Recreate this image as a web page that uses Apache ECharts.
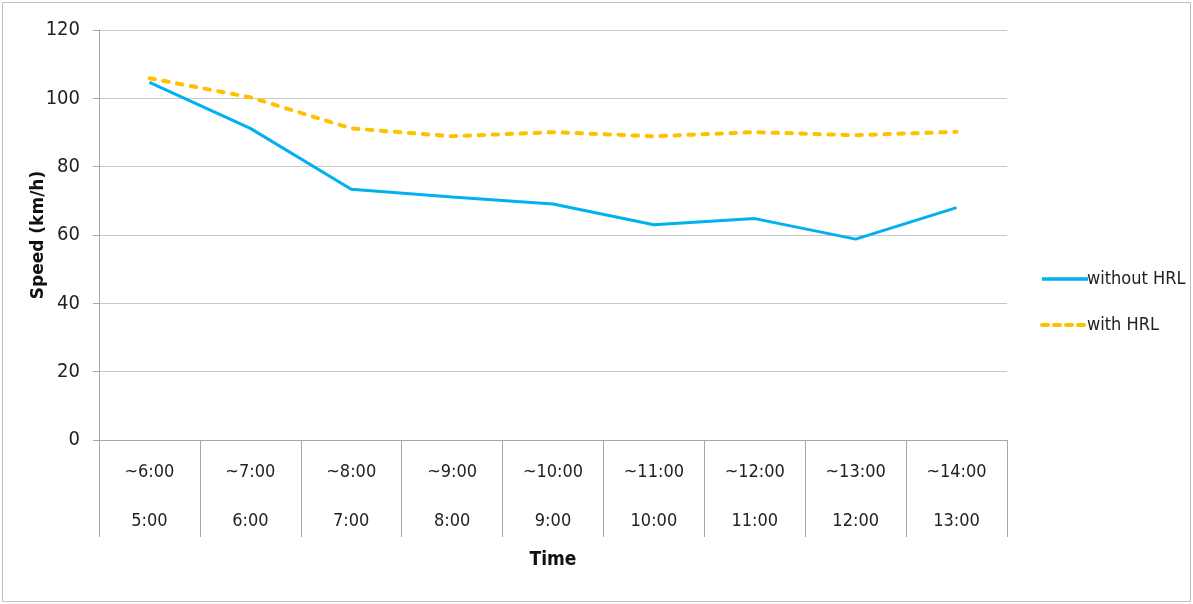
<!DOCTYPE html>
<html>
<head>
<meta charset="utf-8">
<script src="https://cdn.jsdelivr.net/npm/echarts@6/dist/echarts.min.js"></script>
<style>
html,body{margin:0;padding:0;background:#fff;}
#c{width:1193px;height:604px;}
</style>
</head>
<body>
<div id="c"></div>
<script>
var rangeLabels = ["~6:00","~7:00","~8:00","~9:00","~10:00","~11:00","~12:00","~13:00","~14:00"];
var startLabels = ["5:00","6:00","7:00","8:00","9:00","10:00","11:00","12:00","13:00"];
var withoutHRL = [104.7, 91.2, 73.4, 71.1, 69.1, 63.0, 64.8, 58.8, 68.0];
var withHRL = [105.9, 100.3, 91.2, 88.9, 90.1, 88.9, 90.1, 89.2, 90.2];
var yTicks = [0, 20, 40, 60, 80, 100, 120];

var FONT = '"DejaVu Sans Condensed", "DejaVu Sans", sans-serif';
var cats = rangeLabels.map(function(r, i){ return r + '\n' + startLabels[i]; });

var chart = echarts.init(document.getElementById('c'), null, {renderer:'canvas'});
chart.setOption({
  animation: false,
  backgroundColor: '#fff',
  graphic: [{
    type: 'rect', shape: {x: 2.5, y: 2.5, width: 1188, height: 599},
    style: {fill: 'none', stroke: '#c0c0c0', lineWidth: 1}, silent: true
  }],
  grid: {left: 99, right: 186, top: 30, bottom: 164, containLabel: false},
  legend: {
    orient: 'vertical', left: 1035, top: 265, itemWidth: 46, itemHeight: 14, itemGap: 28,
    textStyle: {fontFamily: FONT, fontSize: 18, color: '#222', padding: [0,0,0,-6]},
    itemStyle: {opacity: 0},
    data: [
      {name: 'without HRL', lineStyle: {width: 3.5, type: 'solid'}},
      {name: 'with HRL', lineStyle: {width: 4, type: [6, 6], cap: 'round'}}
    ]
  },
  xAxis: {
    type: 'category', data: cats, boundaryGap: true,
    name: 'Time', nameLocation: 'middle', nameGap: 108,
    nameTextStyle: {fontFamily: FONT, fontWeight: 'bold', fontSize: 19, color: '#111'},
    axisLine: {show: true, lineStyle: {color: '#a6a6a6', width: 1}},
    axisTick: {show: true, length: 97, lineStyle: {color: '#a6a6a6'}},
    axisLabel: {fontFamily: FONT, fontSize: 18, color: '#222', lineHeight: 49, margin: 8, interval: 0},
    splitLine: {show: false}
  },
  yAxis: {
    type: 'value', min: 0, max: 120, interval: 20,
    name: 'Speed (km/h)', nameLocation: 'middle', nameGap: 52, nameRotate: 90,
    nameMoveOverlap: false,
    nameTextStyle: {fontFamily: '"DejaVu Sans", sans-serif', fontWeight: 'bold', fontSize: 17, color: '#111'},
    axisLine: {show: true, lineStyle: {color: '#a6a6a6', width: 1}},
    axisTick: {show: true, length: 6, lineStyle: {color: '#a6a6a6'}},
    axisLabel: {fontFamily: FONT, fontSize: 20, color: '#222', margin: 19,
      formatter: function(v){ return yTicks.indexOf(v) >= 0 ? String(v) : ''; }},
    splitLine: {show: true, lineStyle: {color: '#c8c8c8', width: 1}}
  },
  series: [
    {name: 'without HRL', type: 'line', data: withoutHRL, symbol: 'none', showSymbol: false,
     itemStyle: {color: '#00B0F0'}, lineStyle: {color: '#00B0F0', width: 3}},
    {name: 'with HRL', type: 'line', data: withHRL, symbol: 'none', showSymbol: false,
     itemStyle: {color: '#FFC000'}, lineStyle: {color: '#FFC000', width: 4, type: [5.5, 8.5], cap: 'round'}}
  ]
});
</script>
</body>
</html>
